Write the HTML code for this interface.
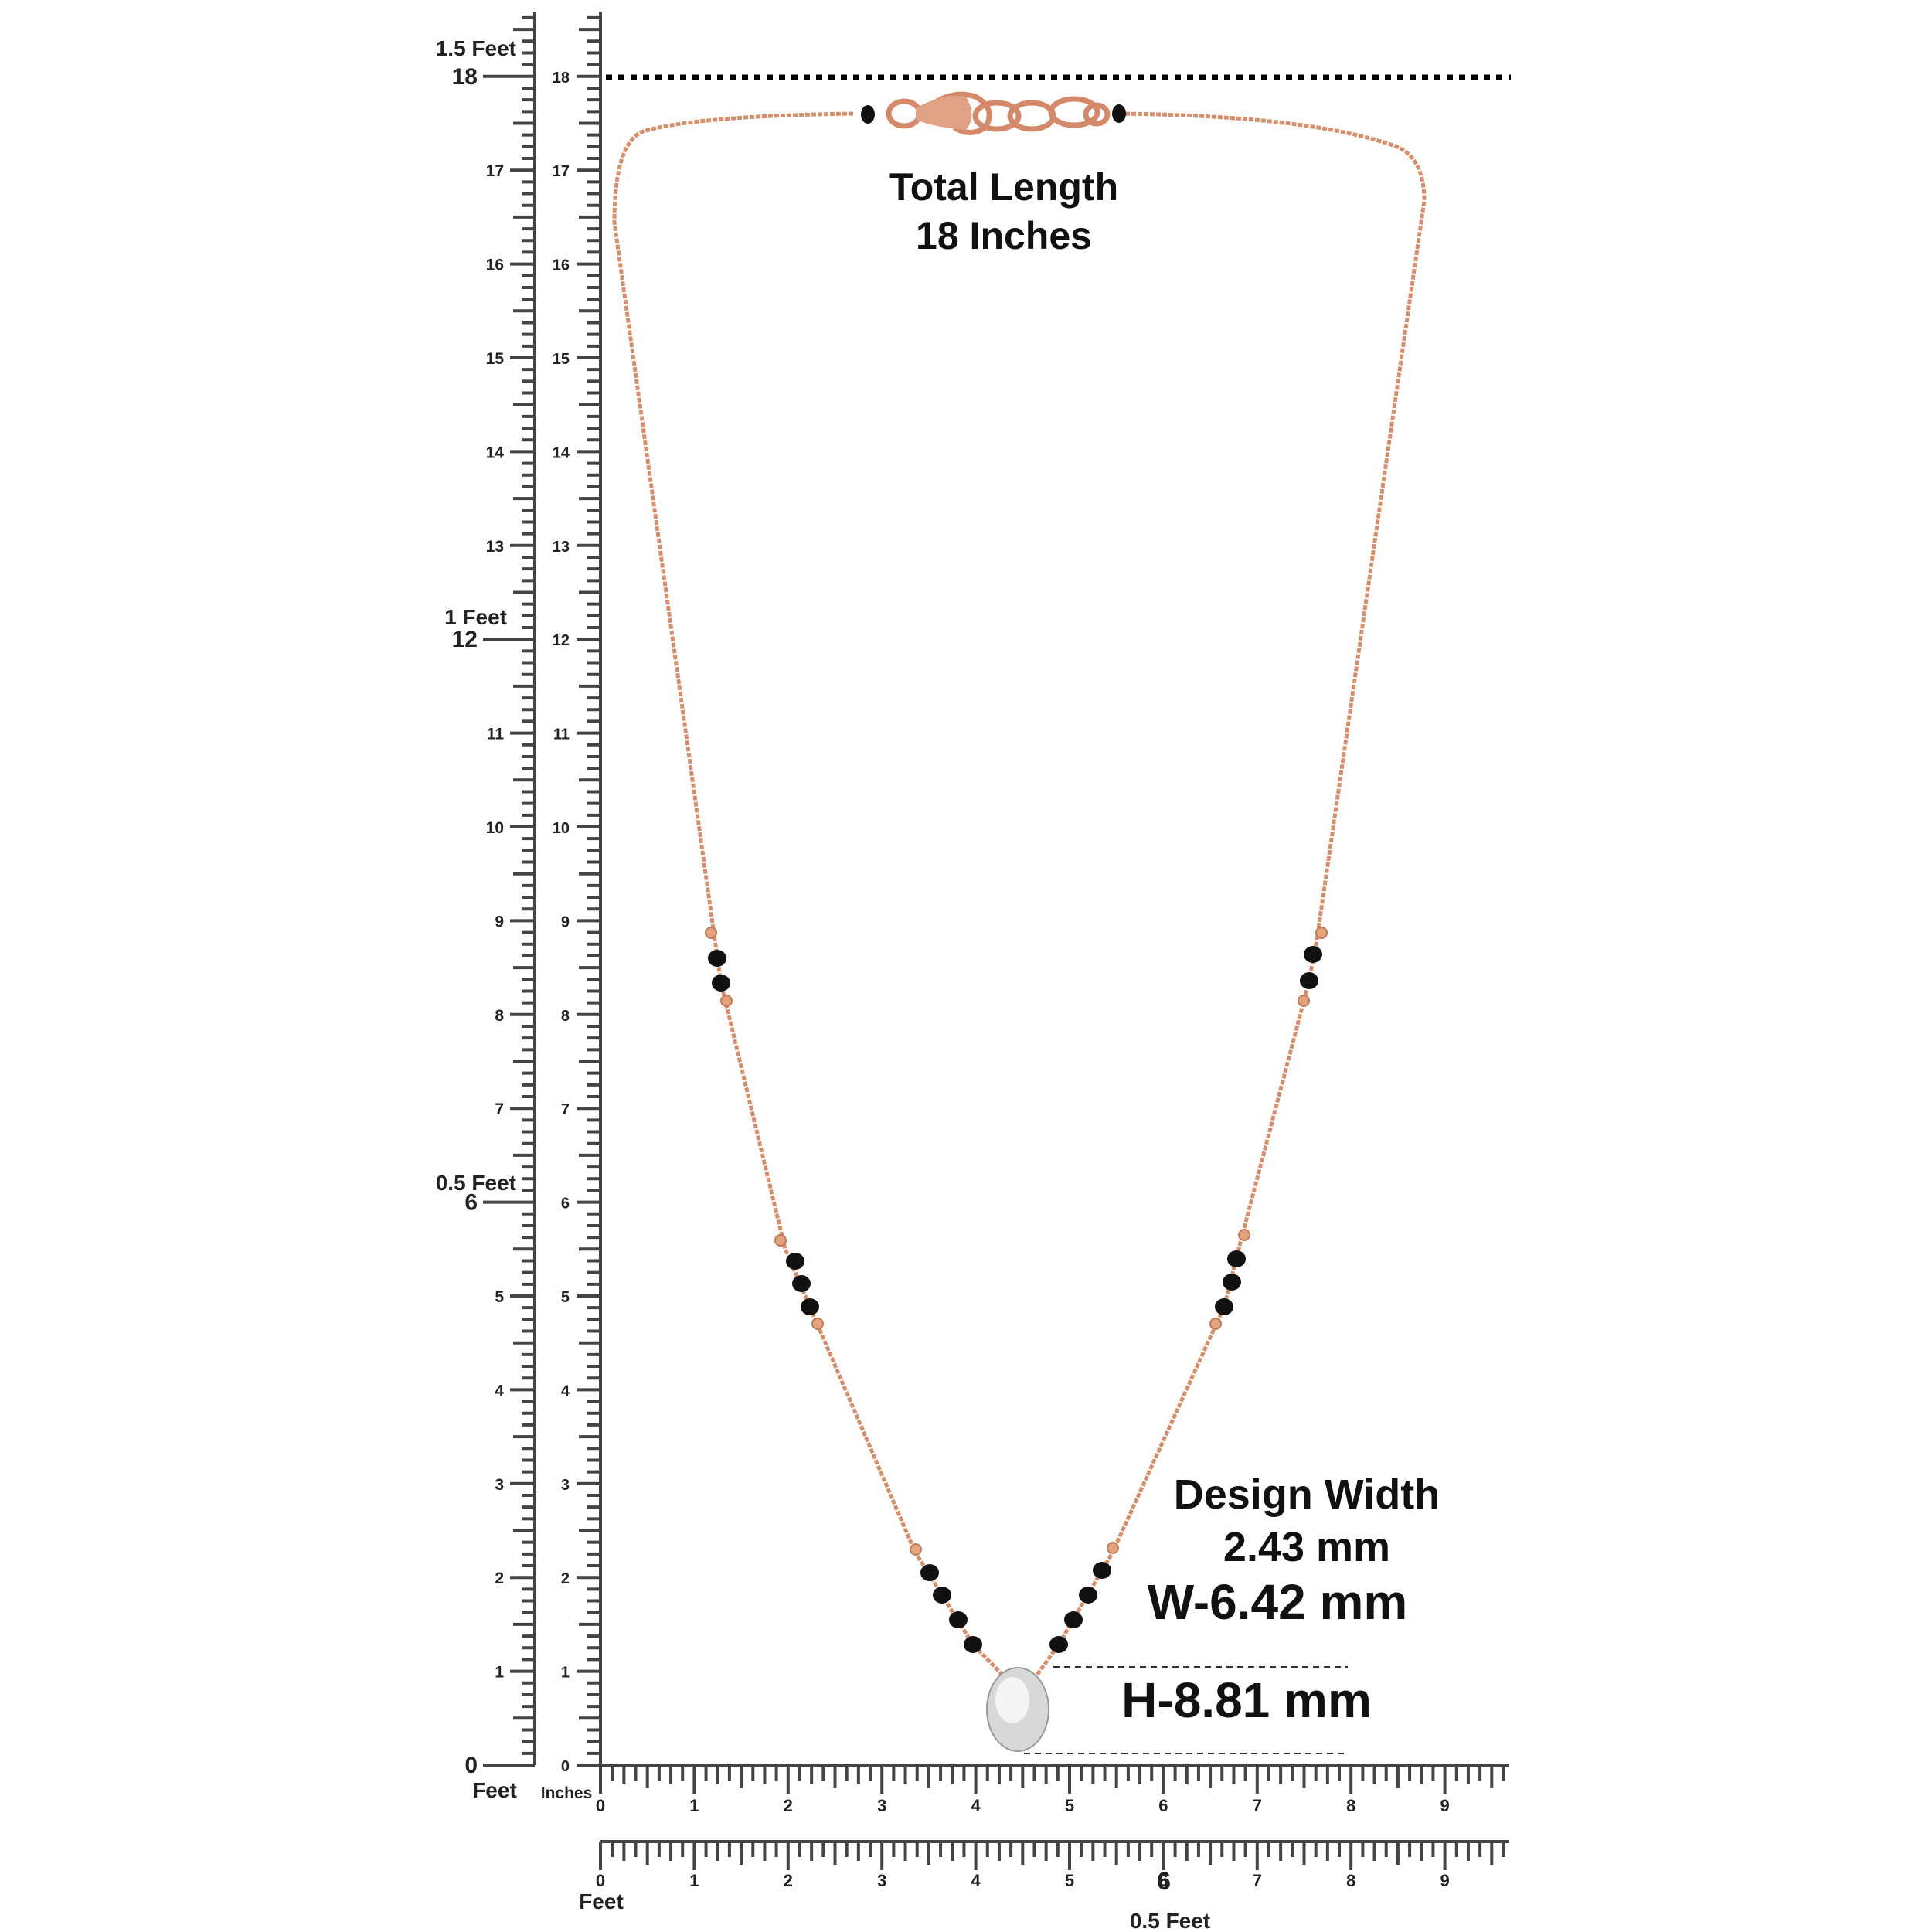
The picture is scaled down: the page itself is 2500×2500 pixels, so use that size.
<!DOCTYPE html>
<html><head><meta charset="utf-8"><style>
html,body{margin:0;padding:0;background:#fff}
svg{display:block}
text{font-family:"Liberation Sans",Arial,sans-serif}
</style></head><body>
<svg id="s" width="2500" height="2500" viewBox="0 0 2500 2500" xmlns="http://www.w3.org/2000/svg">
<g id="rul" stroke="#444" stroke-width="4" fill="none"></g>
<g id="lab" fill="#222" font-weight="bold"></g>
<line x1="784" y1="100" x2="1955" y2="100" stroke="#000" stroke-width="7" stroke-dasharray="8 8"/>
<g fill="none" stroke="#d68f6c" stroke-width="5" stroke-dasharray="6 2">
<path d="M1104 147 Q900 150 832 170 Q795 185 795 288 L925 1216 L933 1272 L1016 1616 L1048 1691 L1184 2008 L1259 2128 L1300 2170"/>
<path d="M1448 147 Q1700 150 1808 190 Q1843 205 1843 260 L1704 1216 L1694 1269 L1605 1608 L1584 1691 L1440 2008 L1370 2128 L1340 2170"/>
</g>
<g fill="none" stroke="#d4896a" stroke-width="7">
<ellipse cx="1170" cy="147" rx="20" ry="16"/>
<path d="M1200 140 Q1230 115 1262 125 Q1290 140 1275 165 Q1255 178 1235 165"/>
<ellipse cx="1290" cy="150" rx="28" ry="17"/>
<ellipse cx="1335" cy="150" rx="28" ry="17"/>
<ellipse cx="1390" cy="145" rx="30" ry="17"/>
<ellipse cx="1419" cy="148" rx="14" ry="12"/>
</g>
<path d="M1185 140 Q1220 120 1250 125 Q1265 150 1250 168 Q1210 165 1185 155Z" fill="#e0a284"/>
<g fill="#e2a37f" stroke="#c27a58" stroke-width="2">
<circle cx="920" cy="1207" r="7"/><circle cx="940" cy="1295" r="7"/>
<circle cx="1010" cy="1605" r="7"/><circle cx="1058" cy="1713" r="7"/>
<circle cx="1185" cy="2005" r="7"/>
<circle cx="1710" cy="1207" r="7"/><circle cx="1687" cy="1295" r="7"/>
<circle cx="1610" cy="1598" r="7"/><circle cx="1573" cy="1713" r="7"/>
<circle cx="1440" cy="2003" r="7"/>
</g>
<g fill="#111">
<ellipse cx="1123" cy="148" rx="9" ry="12"/><ellipse cx="1448" cy="147" rx="9" ry="12"/>
<ellipse cx="928" cy="1240" rx="12" ry="11"/><ellipse cx="933" cy="1272" rx="12" ry="11"/>
<ellipse cx="1029" cy="1632" rx="12" ry="11"/><ellipse cx="1037" cy="1661" rx="12" ry="11"/><ellipse cx="1048" cy="1691" rx="12" ry="11"/>
<ellipse cx="1203" cy="2035" rx="12" ry="11"/><ellipse cx="1219" cy="2064" rx="12" ry="11"/><ellipse cx="1240" cy="2096" rx="12" ry="11"/><ellipse cx="1259" cy="2128" rx="12" ry="11"/>
<ellipse cx="1699" cy="1235" rx="12" ry="11"/><ellipse cx="1694" cy="1269" rx="12" ry="11"/>
<ellipse cx="1600" cy="1629" rx="12" ry="11"/><ellipse cx="1594" cy="1659" rx="12" ry="11"/><ellipse cx="1584" cy="1691" rx="12" ry="11"/>
<ellipse cx="1426" cy="2032" rx="12" ry="11"/><ellipse cx="1408" cy="2064" rx="12" ry="11"/><ellipse cx="1389" cy="2096" rx="12" ry="11"/><ellipse cx="1370" cy="2128" rx="12" ry="11"/>
</g>
<ellipse cx="1317" cy="2212" rx="40" ry="54" fill="#d8d8d8" stroke="#999" stroke-width="2"/>
<ellipse cx="1310" cy="2200" rx="22" ry="30" fill="#f4f4f4"/>
<g stroke="#333" stroke-width="2" stroke-dasharray="8 6">
<line x1="1363" y1="2157" x2="1744" y2="2157"/><line x1="1325" y1="2269" x2="1744" y2="2269"/>
</g>
<g fill="#111" font-weight="bold" text-anchor="middle">
<text x="1299" y="259" font-size="50">Total Length</text>
<text x="1299" y="322" font-size="50">18 Inches</text>
<text x="1691" y="1952" font-size="54">Design Width</text>
<text x="1691" y="2020" font-size="54">2.43 mm</text>
<text x="1653" y="2095" font-size="64">W-6.42 mm</text>
<text x="1613" y="2222" font-size="64">H-8.81 mm</text>
</g>
</svg>
<script>
const R=document.getElementById('rul'),L=document.getElementById('lab');
let r='',l='';
const ln=(a,b,c,d)=>r+=`<line x1="${a}" y1="${b}" x2="${c}" y2="${d}"/>`;
const tx=(x,y,s,t,fs,a)=>l+=`<text x="${x}" y="${y}" font-size="${fs}" text-anchor="${a||'middle'}">${t}</text>`;
const Y0=2284,P=121.4;
[692,777].forEach((X,k)=>{
 ln(X,15,X,Y0);
 for(let i=0;i<=149;i++){const y=Y0-i*P/8;if(y<18)break;
  let len=i%8==0?0:(i%4==0?28:17); if(len)ln(X-len,y,X,y);}
 for(let n=0;n<=18;n++){const y=Y0-n*P;
  if(k==0){const big=(n%6==0);ln(big?625:660,y,X,y);
   if(big)tx(618,y+10,0,n,big?30:22,'end');else tx(652,y+8,0,n,21,'end');}
  else{ln(746,y,X,y);tx(737,y+8,0,n,20,'end');}}
});
ln(777,Y0,1952,Y0);ln(777,2383,1952,2383);
[Y0,2383].forEach((Y,k)=>{
 for(let i=0;i<=77;i++){const x=777+i*P/8;if(x>1953)break;
  let len=i%8==0?37:(i%4==0?30:(i%2==0?25:20));ln(x,Y,x,Y+len);}
 for(let n=0;n<=9;n++){const x=777+n*P;tx(x,Y+(k?58:60),0,n,22);}
});
tx(668,72,0,'1.5 Feet',28,'end');tx(656,808,0,'1 Feet',28,'end');tx(668,1540,0,'0.5 Feet',28,'end');
tx(640,2326,0,'Feet',28);tx(733,2327,0,'Inches',21);tx(778,2470,0,'Feet',28);tx(1514,2495,0,'0.5 Feet',28);
tx(1506,2445,0,'6',32);
R.innerHTML=r;L.innerHTML=l;
</script>
</body></html>
